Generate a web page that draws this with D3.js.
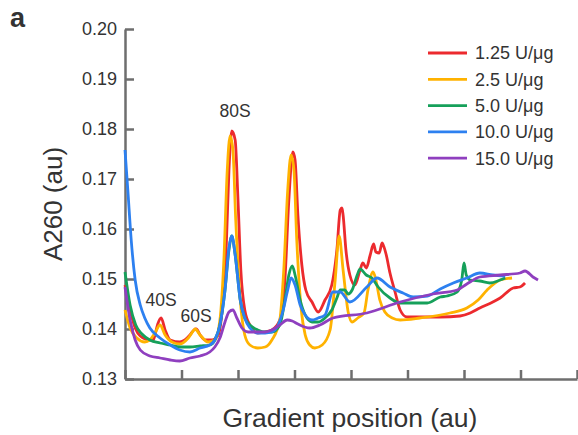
<!DOCTYPE html>
<html>
<head>
<meta charset="utf-8">
<script src="https://cdn.jsdelivr.net/npm/d3@7"></script>
<style>
    body { margin: 0; background: #fff; }
    svg text { font-family: "Liberation Sans", Arial, sans-serif; fill: #333; }
</style>
</head>
<body>
<div id="chart"></div>
<script>

// Gradient position (au) and A260 (au) read from the profiles
var seriesNames = ["1.25 U/\u03bcg", "2.5 U/\u03bcg", "5.0 U/\u03bcg", "10.0 U/\u03bcg", "15.0 U/\u03bcg"];
var seriesColors = ["#ec2a2e", "#ffb200", "#16a05a", "#2d80f0", "#8f3fbf"];

var xTicks = [0, 1, 2, 3, 4, 5, 6, 7, 8];
var yTicks = [0.13, 0.14, 0.15, 0.16, 0.17, 0.18, 0.19, 0.20];

var x125 = [0, 0.09, 0.18, 0.27, 0.44, 0.50, 0.53, 0.58, 0.64, 0.71, 0.80, 0.97, 1.06, 1.15, 1.22, 1.26, 1.33, 1.42, 1.54, 1.65,
    1.72, 1.79, 1.84, 1.89, 1.95, 2.00, 2.05, 2.12, 2.21, 2.35, 2.48, 2.60, 2.74, 2.83, 2.90, 2.97, 3.01, 3.06, 3.13, 3.20,
    3.31, 3.42, 3.54, 3.66, 3.75, 3.81, 3.84, 3.86, 3.91, 3.98, 4.07, 4.16, 4.21, 4.27, 4.34, 4.40, 4.44, 4.50, 4.55, 4.57,
    4.62, 4.69, 4.78, 4.87, 4.99, 5.22, 5.58, 5.93, 6.11, 6.28, 6.51, 6.64, 6.87, 6.99, 7.08];
var y125 = [0.1488, 0.1438, 0.1402, 0.1386, 0.1378, 0.1378, 0.1388, 0.1410, 0.1422, 0.1398, 0.1378, 0.1374, 0.1378, 0.1388, 0.1398, 0.1400, 0.1388, 0.1378, 0.1378, 0.1388,
    0.1438, 0.1558, 0.1718, 0.1796, 0.1778, 0.1658, 0.1518, 0.1438, 0.1408, 0.1392, 0.1394, 0.1398, 0.1418, 0.1498, 0.1658, 0.1754, 0.1738, 0.1628, 0.1528, 0.1478,
    0.1454, 0.1434, 0.1458, 0.1488, 0.1558, 0.1638, 0.1642, 0.1628, 0.1558, 0.1508, 0.1488, 0.1518, 0.1532, 0.1522, 0.1548, 0.1570, 0.1554, 0.1552, 0.1572, 0.1568,
    0.1550, 0.1512, 0.1474, 0.1438, 0.1424, 0.1424, 0.1424, 0.1426, 0.1432, 0.1442, 0.1454, 0.1462, 0.1482, 0.1484, 0.1492];

var x25 = [0, 0.09, 0.21, 0.35, 0.44, 0.53, 0.62, 0.71, 0.83, 0.97, 1.12, 1.22, 1.24, 1.33, 1.47, 1.59, 1.68, 1.75, 1.81, 1.86,
    1.91, 1.96, 2.04, 2.12, 2.21, 2.35, 2.48, 2.60, 2.74, 2.81, 2.88, 2.94, 2.99, 3.04, 3.12, 3.19, 3.27, 3.36, 3.49, 3.63,
    3.72, 3.79, 3.86, 3.95, 4.02, 4.12, 4.23, 4.30, 4.39, 4.44, 4.51, 4.60, 4.73, 4.87, 5.22, 5.75, 6.05, 6.25, 6.41, 6.64, 6.85];
var y25 = [0.1438, 0.1402, 0.1382, 0.1374, 0.1378, 0.1392, 0.1408, 0.1388, 0.1374, 0.1370, 0.1382, 0.1398, 0.1400, 0.1388, 0.1374, 0.1378, 0.1418, 0.1538, 0.1718, 0.1786,
    0.1758, 0.1618, 0.1458, 0.1388, 0.1368, 0.1362, 0.1364, 0.1378, 0.1418, 0.1518, 0.1678, 0.1748, 0.1718, 0.1578, 0.1438, 0.1388, 0.1368, 0.1362, 0.1368, 0.1398,
    0.1498, 0.1586, 0.1518, 0.1434, 0.1414, 0.1422, 0.1432, 0.1478, 0.1514, 0.1498, 0.1458, 0.1434, 0.1422, 0.1418, 0.1422, 0.1432, 0.1442, 0.1458, 0.1478, 0.1498, 0.1502];

var x50 = [0, 0.09, 0.19, 0.30, 0.44, 0.62, 0.80, 0.97, 1.15, 1.33, 1.50, 1.59, 1.68, 1.77, 1.84, 1.89, 1.95, 2.04, 2.12, 2.21,
    2.35, 2.48, 2.60, 2.74, 2.83, 2.90, 2.96, 3.01, 3.10, 3.19, 3.31, 3.42, 3.54, 3.66, 3.75, 3.81, 3.89, 3.95, 4.02, 4.11,
    4.16, 4.27, 4.37, 4.48, 4.69, 4.87, 5.04, 5.35, 5.58, 5.70, 5.88, 5.96, 6.00, 6.04, 6.11, 6.28, 6.46, 6.64, 6.73];
var y50 = [0.1514, 0.1448, 0.1408, 0.1390, 0.1378, 0.1372, 0.1368, 0.1364, 0.1364, 0.1366, 0.1368, 0.1378, 0.1408, 0.1478, 0.1558, 0.1586, 0.1548, 0.1458, 0.1422, 0.1408,
    0.1398, 0.1394, 0.1394, 0.1408, 0.1458, 0.1508, 0.1526, 0.1508, 0.1458, 0.1428, 0.1414, 0.1414, 0.1422, 0.1438, 0.1462, 0.1478, 0.1478, 0.1470, 0.1478, 0.1508,
    0.1520, 0.1508, 0.1502, 0.1484, 0.1462, 0.1452, 0.1452, 0.1452, 0.1464, 0.1466, 0.1474, 0.1498, 0.1532, 0.1508, 0.1498, 0.1496, 0.1492, 0.1498, 0.1502];

var x100 = [0, 0.05, 0.11, 0.18, 0.27, 0.35, 0.44, 0.62, 0.80, 0.97, 1.15, 1.33, 1.50, 1.59, 1.68, 1.77, 1.84, 1.89, 1.95, 2.04,
    2.12, 2.21, 2.35, 2.48, 2.60, 2.71, 2.80, 2.88, 2.94, 3.01, 3.10, 3.19, 3.31, 3.42, 3.54, 3.68, 3.81, 3.98, 4.28, 4.46,
    4.69, 4.92, 5.10, 5.35, 5.58, 5.81, 6.05, 6.28, 6.51, 6.73];
var y100 = [0.1758, 0.1678, 0.1578, 0.1498, 0.1448, 0.1422, 0.1402, 0.1382, 0.1368, 0.1358, 0.1354, 0.1362, 0.1368, 0.1378, 0.1408, 0.1478, 0.1562, 0.1586, 0.1548, 0.1458,
    0.1422, 0.1402, 0.1392, 0.1392, 0.1394, 0.1408, 0.1438, 0.1478, 0.1502, 0.1488, 0.1448, 0.1428, 0.1418, 0.1422, 0.1428, 0.1474, 0.1474, 0.1454, 0.1484, 0.1502,
    0.1484, 0.1472, 0.1464, 0.1466, 0.1480, 0.1492, 0.1502, 0.1512, 0.1508, 0.1506];

var x150 = [0, 0.09, 0.18, 0.27, 0.44, 0.62, 0.80, 0.97, 1.15, 1.33, 1.50, 1.59, 1.68, 1.77, 1.84, 1.91, 1.98, 2.07, 2.18, 2.35,
    2.48, 2.60, 2.74, 2.87, 2.96, 3.06, 3.27, 3.45, 3.68, 4.28, 4.87, 5.45, 5.88, 6.05, 6.28, 6.64, 6.99, 7.08, 7.22, 7.31];
var y150 = [0.1484, 0.1418, 0.1378, 0.1358, 0.1346, 0.1342, 0.1338, 0.1336, 0.1342, 0.1346, 0.1354, 0.1364, 0.1382, 0.1414, 0.1434, 0.1438, 0.1422, 0.1402, 0.1394, 0.1394,
    0.1394, 0.1398, 0.1408, 0.1418, 0.1416, 0.1410, 0.1402, 0.1408, 0.1422, 0.1432, 0.1454, 0.1470, 0.1478, 0.1490, 0.1504, 0.1508, 0.1512, 0.1516, 0.1504, 0.1498];

var peakLabels = ["40S", "60S", "80S"];
var peakX = [0.64, 1.26, 1.95];
var peakY = [0.1446, 0.1414, 0.1824];

var series = [[x125, y125], [x25, y25], [x50, y50], [x100, y100], [x150, y150]].map(function(p, i) {
    return {
        name: seriesNames[i],
        color: seriesColors[i],
        values: p[0].map(function(d, j) { return {x: d, y: p[1][j]}; })
    };
});

var margin = {top: 29, right: 1, bottom: 56, left: 125};
var width = 578 - margin.left - margin.right;
var height = 435 - margin.top - margin.bottom;

var svg = d3.select("#chart")
    .append("svg")
    .attr("width", 578)
    .attr("height", 435);

var chart = svg.append("g")
    .attr("transform", "translate(" + margin.left + "," + margin.top + ")");

var x = d3.scaleLinear()
    .domain([0, 8])
    .range([0, width]);

var y = d3.scaleLinear()
    .domain([0.13, 0.20])
    .range([height, 0]);

// Axes with inward ticks
var yAxis = chart.append("g")
    .attr("class", "axis")
    .call(d3.axisLeft(y).tickValues(yTicks).tickFormat(d3.format(".2f")).tickSizeInner(-9).tickSizeOuter(0).tickPadding(8));

var xAxis = chart.append("g")
    .attr("class", "axis")
    .attr("transform", "translate(0," + height + ")")
    .call(d3.axisBottom(x).tickValues(xTicks).tickFormat("").tickSizeInner(-9).tickSizeOuter(0));

chart.selectAll(".axis path, .axis line")
    .attr("stroke", "#6e6e6e")
    .attr("stroke-width", 2.5);

yAxis.selectAll("text")
    .style("font-size", "18px")
    .attr("fill", "#333");

// Profiles
var line = d3.line()
    .curve(d3.curveMonotoneX)
    .x(function(d) { return x(d.x); })
    .y(function(d) { return y(d.y); });

chart.selectAll(".profile")
    .data(series)
    .enter().append("path")
    .attr("class", "profile")
    .attr("fill", "none")
    .attr("stroke", function(d) { return d.color; })
    .attr("stroke-width", 2.8)
    .attr("stroke-linejoin", "round")
    .attr("d", function(d) { return line(d.values); });

// Peak labels
chart.selectAll(".peak")
    .data(peakLabels)
    .enter().append("text")
    .attr("class", "peak")
    .attr("x", function(d, i) { return x(peakX[i]); })
    .attr("y", function(d, i) { return y(peakY[i]); })
    .style("text-anchor", "middle")
    .style("font-size", "17.5px")
    .text(function(d) { return d; });

// Legend
var legend = chart.selectAll(".legend")
    .data(series)
    .enter().append("g")
    .attr("class", "legend")
    .attr("transform", function(d, i) { return "translate(303," + (24 + i * 26.3) + ")"; });

legend.append("line")
    .attr("x1", 0)
    .attr("x2", 39)
    .attr("stroke", function(d) { return d.color; })
    .attr("stroke-width", 2.8);

legend.append("text")
    .attr("x", 47)
    .attr("dy", "0.35em")
    .style("font-size", "18px")
    .text(function(d) { return d.name; });

// Axis titles
svg.append("text")
    .attr("transform", "translate(62,204) rotate(-90)")
    .style("text-anchor", "middle")
    .style("font-size", "26px")
    .text("A260 (au)");

svg.append("text")
    .attr("x", 350)
    .attr("y", 427)
    .style("text-anchor", "middle")
    .style("font-size", "26.5px")
    .text("Gradient position (au)");

svg.append("text")
    .attr("x", 10)
    .attr("y", 27)
    .style("font-size", "27px")
    .style("font-weight", "bold")
    .text("a");

</script>
</body>
</html>
